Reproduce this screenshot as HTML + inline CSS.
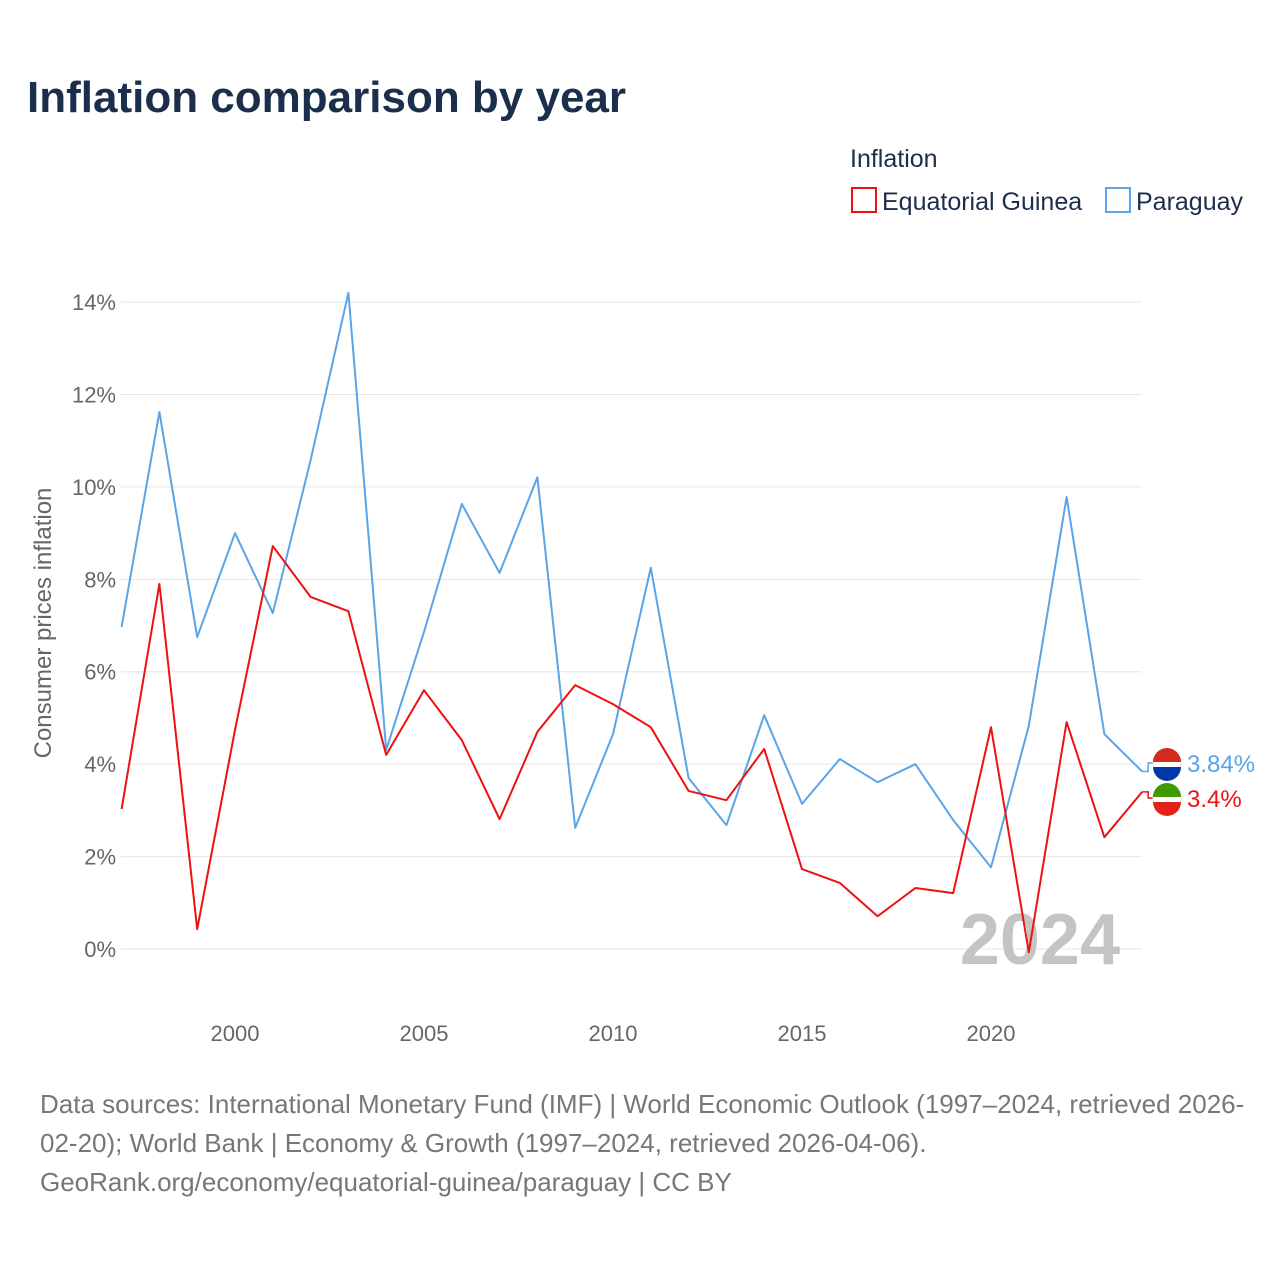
<!DOCTYPE html>
<html><head><meta charset="utf-8"><style>
body{margin:0;background:#fff;font-family:"Liberation Sans",sans-serif}
</style></head><body>
<svg width="1280" height="1280" xmlns="http://www.w3.org/2000/svg">
<rect width="1280" height="1280" fill="#fff"/>
<text x="27" y="112" font-size="44" font-weight="bold" fill="#1b2e4b">Inflation comparison by year</text>
<text x="850" y="167" font-size="25" fill="#1b2e4b">Inflation</text>
<g><rect x="852" y="188" width="24" height="24" fill="none" stroke="#ee1111" stroke-width="2"/><text x="882" y="210" font-size="25" fill="#1b2e4b">Equatorial Guinea</text></g>
<g><rect x="1106" y="188" width="24" height="24" fill="none" stroke="#5aa4e8" stroke-width="2"/><text x="1136" y="210" font-size="25" fill="#1b2e4b">Paraguay</text></g>
<g id="grid"></g><g id="yt"></g><g id="xt"></g>
<text transform="translate(51,623) rotate(-90)" text-anchor="middle" font-size="24" fill="#666">Consumer prices inflation</text>
<text x="1120" y="964" text-anchor="end" font-size="72" font-weight="bold" fill="#c4c4c4">2024</text>
<g id="lines"></g>
<g font-size="26" fill="#777">
<text x="40" y="1113">Data sources: International Monetary Fund (IMF) | World Economic Outlook (1997–2024, retrieved 2026-</text>
<text x="40" y="1152">02-20); World Bank | Economy &amp; Growth (1997–2024, retrieved 2026-04-06).</text>
<text x="40" y="1191">GeoRank.org/economy/equatorial-guinea/paraguay | CC BY</text>
</g>
</svg>
<script>
const years=[1997,1998,1999,2000,2001,2002,2003,2004,2005,2006,2007,2008,2009,2010,2011,2012,2013,2014,2015,2016,2017,2018,2019,2020,2021,2022,2023,2024];
const paraguay=[6.97,11.62,6.75,9.0,7.27,10.58,14.2,4.31,6.86,9.63,8.14,10.21,2.62,4.65,8.25,3.70,2.68,5.06,3.14,4.11,3.61,4.00,2.79,1.77,4.83,9.78,4.65,3.84];
const eqGuinea=[3.03,7.9,0.43,4.74,8.72,7.62,7.31,4.2,5.6,4.52,2.81,4.7,5.71,5.3,4.8,3.42,3.22,4.33,1.73,1.43,0.71,1.32,1.21,4.8,-0.07,4.91,2.42,3.4];
const yTicks=[0,2,4,6,8,10,12,14];
const xTicks=[2000,2005,2010,2015,2020];
const NS="http://www.w3.org/2000/svg";
const X=y=>121.6+(y-1997)*37.8;
const Y=v=>949-v*46.21;
function mk(t,a,p){const e=document.createElementNS(NS,t);for(const k in a)e.setAttribute(k,a[k]);p.appendChild(e);return e;}
const g=document.getElementById('grid'),yt=document.getElementById('yt'),xt=document.getElementById('xt'),L=document.getElementById('lines');
yTicks.forEach(v=>{
 const l=mk('line',{x1:121,x2:1142,y1:Y(v),y2:Y(v),stroke:'#e6e6e6','stroke-width':1},g);
 
 
 const t=mk('text',{x:116,y:Y(v)+8,'text-anchor':'end','font-size':22,fill:'#666'},yt);
 t.textContent=v+'%';
 
 
});
xTicks.forEach(v=>{
 const t=mk('text',{x:X(v),y:1041,'text-anchor':'middle','font-size':22,fill:'#666'},xt);
 t.textContent=v;
 
 
});
function line(d,c,name){
 const p=mk('polyline',{points:d.map((v,i)=>X(years[i])+','+Y(v)).join(' '),fill:'none',stroke:c,'stroke-width':2,'stroke-linejoin':'round'},L);
 
 
}
line(paraguay,'#5aa4e8','line-paraguay');
line(eqGuinea,'#ee1111','line-equatorial-guinea');
function endLabel(v,c,ly,txt,name,flagTop,flagBot){
 const lx=X(2024);
 mk('polyline',{points:`${lx},${Y(v)} ${lx+6},${Y(v)} ${lx+6},${ly} ${lx+12},${ly}`,fill:'none',stroke:c,'stroke-width':1.5},L);
 const f=mk('g',{},L);
 
 
 mk('circle',{cx:1167,cy:ly,r:14,fill:'#fff',stroke:'#ddd'},f);
 mk('path',{d:`M1153,${ly-1} A14,14 0 0 1 1181,${ly-1} Z`,fill:flagTop},f);
 mk('path',{d:`M1153,${ly+4} A14,14 0 0 0 1181,${ly+4} Z`,fill:flagBot},f);
 const t=mk('text',{x:1187,y:ly+9,'font-size':24,fill:c},L);
 t.textContent=txt;
 
 
}
endLabel(paraguay[27],'#5aa4e8',763,paraguay[27]+'%','paraguay','#d52b1e','#0038a8');
endLabel(eqGuinea[27],'#ee1111',798,eqGuinea[27]+'%','equatorial-guinea','#3e9a00','#e32118');
</script>
</body></html>
